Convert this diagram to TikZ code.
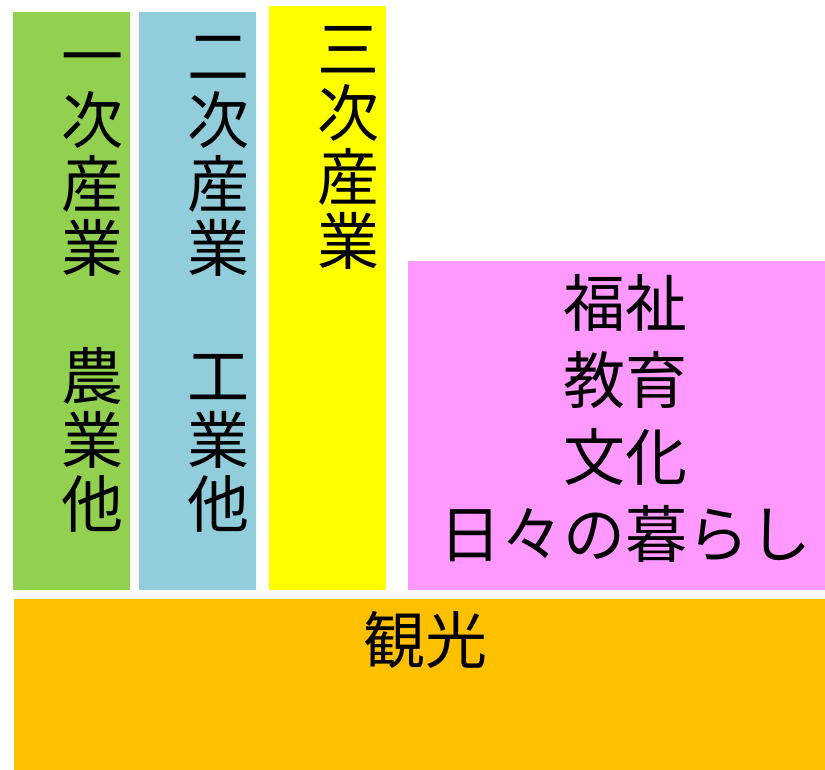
\documentclass[tikz,border=0pt]{standalone}
\usepackage{fontspec}
\setmainfont{Noto Sans CJK JP}
\usepackage{xcolor}
\usetikzlibrary{positioning}

\definecolor{nougyou}{HTML}{92D050}
\definecolor{kougyou}{HTML}{92CDDC}
\definecolor{sanji}{HTML}{FFFF00}
\definecolor{kurashi}{HTML}{FF99FF}
\definecolor{kankou}{HTML}{FFC000}

\begin{document}
\begin{tikzpicture}[x=1pt,y=-1pt,
    band/.style={rectangle,inner sep=0pt,outer sep=0pt,anchor=north west},
    word/.style={inner sep=0pt,anchor=base,align=center,font=\fontsize{62pt}{64pt}\selectfont}]
    \useasboundingbox (0,0) rectangle (825,770);

    % 帯
    \node[band,fill=nougyou,minimum width=117pt,minimum height=578pt] (first) at (13,12) {};
    \node[band,fill=kougyou,minimum width=117pt,minimum height=578pt] (second) at (139,12) {};
    \node[band,fill=sanji,minimum width=117pt,minimum height=584pt] (third) at (269,6) {};
    \node[band,fill=kurashi,minimum width=417pt,minimum height=329pt] (life) at (408,261) {};
    \node[band,fill=kankou,minimum width=811pt,minimum height=171pt] (tour) at (14,599) {};

    % 文字（最終行のベースライン）
    \node[word] (firsttext) at (92,527) {一\\次\\産\\業\\[64pt]農\\業\\他};
    \node[word] (secondtext) at (218,527) {二\\次\\産\\業\\[64pt]工\\業\\他};
    \node[word] (thirdtext) at (348,265) {三\\次\\産\\業};
    \node[word,font=\fontsize{62pt}{77pt}\selectfont] (lifetext) at (625,557) {福祉\\教育\\文化\\日々の暮らし};
    \node[word] (tourtext) at (425,663) {観光};
\end{tikzpicture}
\end{document}
